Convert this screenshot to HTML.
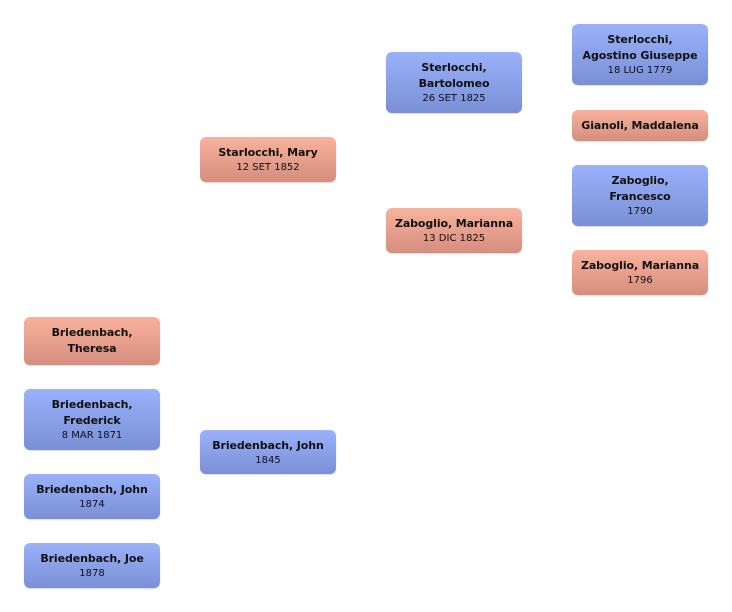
<!DOCTYPE html>
<html><head><meta charset="utf-8"><style>
body{margin:0;width:732px;height:612px;background:#fff;position:relative;font-family:"DejaVu Sans","Liberation Sans",sans-serif;overflow:hidden}
.b{position:absolute;width:136px;border-radius:6px;display:flex;flex-direction:column;justify-content:center;align-items:center;text-align:center;color:#111;box-sizing:border-box;box-shadow:0 1px 1px rgba(0,0,0,0.15)}
.m{background:linear-gradient(#9ab2fa,#7a8fd6)}
.f{background:linear-gradient(#f9b29c,#d58e7e)}
.n{font-weight:bold;font-size:11px;line-height:16px;letter-spacing:-0.1px}
.d{font-size:10px;line-height:13px}
</style></head><body>
<div class="b m" style="left:572px;top:24px;height:61px"><div class="n">Sterlocchi,<br>Agostino Giuseppe</div><div class="d">18 LUG 1779</div></div>
<div class="b f" style="left:572px;top:110px;height:31px"><div class="n">Gianoli, Maddalena</div></div>
<div class="b m" style="left:572px;top:165px;height:61px"><div class="n">Zaboglio,<br>Francesco</div><div class="d">1790</div></div>
<div class="b f" style="left:572px;top:250px;height:45px"><div class="n">Zaboglio, Marianna</div><div class="d">1796</div></div>
<div class="b m" style="left:386px;top:52px;height:61px"><div class="n">Sterlocchi,<br>Bartolomeo</div><div class="d">26 SET 1825</div></div>
<div class="b f" style="left:386px;top:208px;height:45px"><div class="n">Zaboglio, Marianna</div><div class="d">13 DIC 1825</div></div>
<div class="b f" style="left:200px;top:137px;height:45px"><div class="n">Starlocchi, Mary</div><div class="d">12 SET 1852</div></div>
<div class="b m" style="left:200px;top:430px;height:44px"><div class="n">Briedenbach, John</div><div class="d">1845</div></div>
<div class="b f" style="left:24px;top:317px;height:48px"><div class="n">Briedenbach,<br>Theresa</div></div>
<div class="b m" style="left:24px;top:389px;height:61px"><div class="n">Briedenbach,<br>Frederick</div><div class="d">8 MAR 1871</div></div>
<div class="b m" style="left:24px;top:474px;height:45px"><div class="n">Briedenbach, John</div><div class="d">1874</div></div>
<div class="b m" style="left:24px;top:543px;height:45px"><div class="n">Briedenbach, Joe</div><div class="d">1878</div></div>
</body></html>
